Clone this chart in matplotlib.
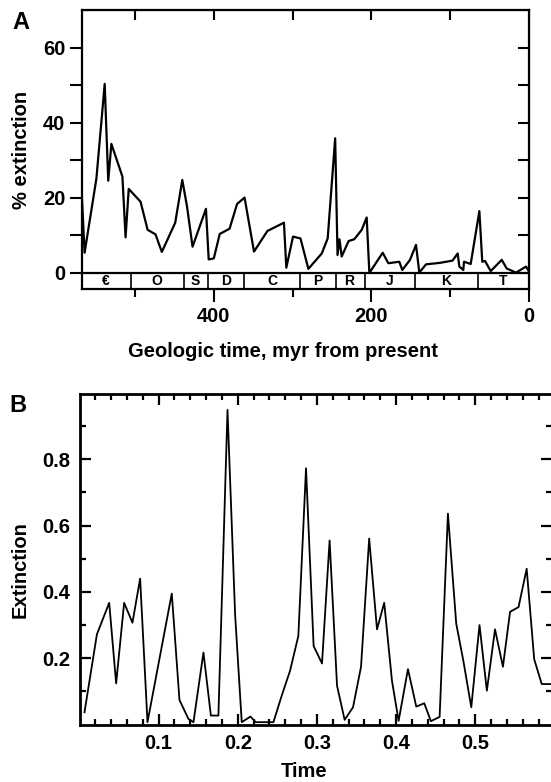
import matplotlib
matplotlib.use("Agg")
import matplotlib.pyplot as plt

plt.rcParams['font.family'] = ['Liberation Sans', 'DejaVu Sans']
plt.rcParams['font.weight'] = 'bold'
plt.rcParams['axes.labelweight'] = 'bold'
plt.rcParams['mathtext.fontset'] = 'custom'
plt.rcParams['mathtext.bf'] = 'Liberation Sans:bold'

# Panel A: % extinction vs geologic time (myr before present)
ages = [567.5, 564, 549, 538.5, 534, 530, 516, 512, 508, 493, 484, 474, 466, 449,
        440, 434, 427, 410, 406.5, 400, 392.5, 380, 370.5, 361, 349, 332, 311,
        308, 299.5, 290, 280, 263, 255.5, 246, 243, 240.5, 237.7, 229, 221.7,
        212.3, 206, 202.6, 185.7, 178.5, 164.6, 160.8, 151, 143.4, 139.2, 130.7,
        113, 97, 90.5, 88.4, 83.4, 82.5, 74, 63, 59.3, 55.8, 48.6, 34.6, 28.3,
        16.5, 3.8, 0]
pct_ext = [20.5, 5.4, 25.2, 50.4, 24.6, 34.4, 25.7, 9.5, 22.4, 19.0, 11.5, 10.3,
           5.6, 13.4, 24.8, 17.7, 7.0, 17.1, 3.6, 3.9, 10.4, 11.8, 18.4, 20.1,
           5.7, 11.2, 13.4, 1.4, 9.7, 9.2, 1.1, 5.2, 9.2, 35.9, 4.8, 9.0, 4.4,
           8.5, 9.0, 11.5, 14.8, 0.0, 5.4, 2.6, 3.0, 0.8, 3.5, 7.5, 0.1, 2.3,
           2.7, 3.3, 5.2, 1.7, 0.8, 3.0, 2.4, 16.5, 3.0, 3.2, 0.5, 3.5, 1.2,
           0.1, 1.7, 0.4]

# period boundaries and labels
boundaries = [505, 438, 408, 362, 290, 245, 208, 145, 65]
period_names = ['\u20ac', 'O', 'S', 'D', 'C', 'P', r'$\mathbf{\overline{R}}$',
                'J', 'K', 'T']
period_mid = [537, 472, 423, 385, 326, 268, 227, 177, 105, 33]

# Panel B: model extinction vs time
t = [0.0063, 0.022, 0.0375, 0.0463, 0.0564, 0.0669, 0.0766, 0.0859, 0.1166,
     0.1263, 0.1376, 0.144, 0.1566, 0.166, 0.1755, 0.187, 0.1966, 0.205, 0.216,
     0.2226, 0.245, 0.2555, 0.266, 0.2765, 0.2862, 0.2958, 0.3064, 0.316,
     0.3254, 0.335, 0.3456, 0.3557, 0.366, 0.3759, 0.385, 0.3948, 0.4032,
     0.415, 0.4255, 0.4356, 0.444, 0.455, 0.4655, 0.476, 0.485, 0.495, 0.5054,
     0.5147, 0.525, 0.535, 0.544, 0.5547, 0.565, 0.5745, 0.584, 0.5947]
ext = [0.037, 0.272, 0.367, 0.124, 0.367, 0.307, 0.44, 0.007, 0.395, 0.074,
       0.017, 0.007, 0.217, 0.027, 0.027, 0.949, 0.332, 0.007, 0.024, 0.007,
       0.007, 0.087, 0.162, 0.267, 0.773, 0.237, 0.184, 0.555, 0.117, 0.014,
       0.052, 0.174, 0.561, 0.287, 0.367, 0.132, 0.011, 0.167, 0.054, 0.064,
       0.01, 0.023, 0.636, 0.304, 0.192, 0.052, 0.30, 0.102, 0.287, 0.174,
       0.34, 0.354, 0.47, 0.197, 0.122, 0.122]

W, H = 551, 782
fig = plt.figure(figsize=(W / 100, H / 100), dpi=100)

# ---------------- Panel A ----------------
axA = fig.add_axes([82 / W, 1 - 289 / H, 447 / W, 279 / H])
axA.plot(ages, pct_ext, color='black', lw=1.6)
axA.set_xlim(567.3, 0)
axA.set_ylim(-4.27, 70.1)
axA.axhline(0, color='black', lw=1.6)
ymin = axA.get_ylim()[0]
axA.vlines(boundaries, ymin, 0, color='black', lw=1.2)
for name, mid in zip(period_names, period_mid):
    axA.text(mid, -2.1, name, ha='center', va='center', fontsize=10)

for s in axA.spines.values():
    s.set_linewidth(1.6)
axA.set_xticks([0, 200, 400])
axA.set_xticks([100, 300, 500], minor=True)
axA.set_yticks([0, 20, 40, 60])
axA.set_yticks([10, 30, 50], minor=True)
axA.tick_params(which='both', direction='out', width=1.5, labelsize=14.5,
                top=False, right=False)
axA.tick_params(axis='x', which='major', length=9, pad=4)
axA.tick_params(axis='x', which='minor', length=6)
axA.tick_params(axis='y', which='both', length=9, pad=3)

topA = axA.secondary_xaxis('top')
topA.set_xticks([100, 200, 300, 400, 500])
topA.tick_params(direction='in', length=7, width=1.5, labeltop=False)
rightA = axA.secondary_yaxis('right')
rightA.set_yticks([0, 10, 20, 30, 40, 50, 60])
rightA.tick_params(direction='in', length=8, width=1.5, labelright=False)

axA.set_xlabel('Geologic time, myr from present', fontsize=14.5)
axA.xaxis.set_label_coords(0.45, -0.19)
axA.set_ylabel('% extinction', fontsize=14.5)
axA.yaxis.set_label_coords(-0.115, 0.5)
fig.text(12 / W, 1 - 29 / H, 'A', fontsize=17, fontweight='heavy', ha='left', va='baseline')

# ---------------- Panel B ----------------
axB = fig.add_axes([79.5 / W, 1 - 724.5 / H, 472.5 / W, 330.5 / H])
axB.plot(t, ext, color='black', lw=1.3)
axB.set_xlim(0, 0.597)
axB.set_ylim(0, 0.997)
for s in axB.spines.values():
    s.set_linewidth(2)
axB.set_xticks([0.1, 0.2, 0.3, 0.4, 0.5])
axB.set_xticks([0.02 * i for i in range(1, 30) if i % 5 != 0], minor=True)
axB.set_yticks([0.2, 0.4, 0.6, 0.8])
axB.set_yticks([0.1, 0.3, 0.5, 0.7, 0.9], minor=True)
axB.tick_params(which='both', direction='in', width=1.6, top=True, right=True,
                labelsize=14.5)
axB.tick_params(which='major', length=8, pad=7)
axB.tick_params(which='minor', length=4.5)
axB.set_xlabel('Time', fontsize=14.5)
axB.xaxis.set_label_coords(0.475, -0.112)
axB.set_ylabel('Extinction', fontsize=14.5)
axB.yaxis.set_label_coords(-0.105, 0.47)
fig.text(9 / W, 1 - 412 / H, 'B', fontsize=17, fontweight='heavy', ha='left', va='baseline')

fig.savefig('out.png', dpi=100)
